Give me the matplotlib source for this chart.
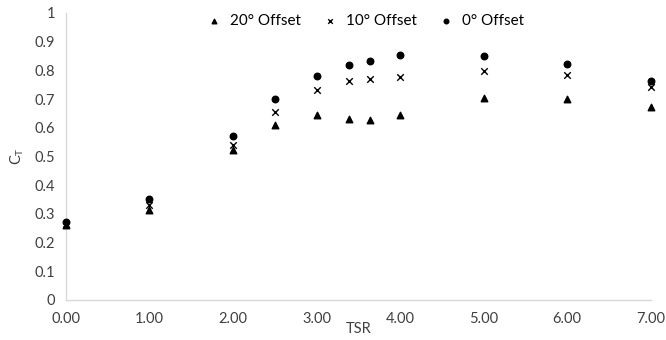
import numpy as np
import matplotlib.pyplot as plt

plt.rcParams['font.family'] = ['Lato', 'DejaVu Sans']

tsr = [0.0, 1.0, 2.0, 2.5, 3.0, 3.39, 3.64, 4.0, 5.0, 6.0, 7.0]
ct_20 = [0.26, 0.314, 0.523, 0.61, 0.643, 0.632, 0.628, 0.645, 0.703, 0.700, 0.673]
ct_10 = [0.265, 0.331, 0.538, 0.653, 0.732, 0.763, 0.770, 0.778, 0.798, 0.784, 0.743]
ct_0 = [0.27, 0.352, 0.571, 0.70, 0.78, 0.817, 0.834, 0.852, 0.850, 0.823, 0.763]

labels = ['20° Offset', '10° Offset', '0° Offset']
x_ticks = np.arange(0, 8, 1)
y_ticks = np.round(np.arange(0, 1.01, 0.1), 1)

txt = '#404040'
fig = plt.figure(figsize=(6.66, 3.4), dpi=100)
ax = fig.add_axes([0.099, 0.118, 0.878, 0.844])

ax.scatter(tsr, ct_20, marker='^', s=22, color='black', label=labels[0], zorder=3)
ax.scatter(tsr, ct_10, marker='x', s=22, color='black', linewidths=1.0, label=labels[1], zorder=3)
ax.scatter(tsr, ct_0, marker='o', s=22, color='black', label=labels[2], zorder=3)

ax.set_xlim(0, 7)
ax.set_ylim(0, 1)
ax.set_xticks(x_ticks)
ax.set_xticklabels([f'{v:.2f}' for v in x_ticks])
ax.set_yticks(y_ticks)
ax.set_yticklabels([f'{v:g}' for v in y_ticks])
ax.tick_params(axis='y', length=0, labelsize=10.5, labelcolor=txt, pad=8)
ax.tick_params(axis='x', length=0, labelsize=10.5, labelcolor=txt, pad=9)

for s in ['top', 'right']:
    ax.spines[s].set_visible(False)
for s in ['left', 'bottom']:
    ax.spines[s].set_color('#d9d9d9')
    ax.spines[s].set_linewidth(1)
for c in ax.collections:
    c.set_clip_on(False)

ax.set_xlabel('TSR', fontsize=10.5, color=txt, labelpad=-3)
ax.set_ylabel('C$_\\mathregular{T}$', fontsize=10.5, color=txt, labelpad=6)

leg = ax.legend(loc='upper center', bbox_to_anchor=(0.505, 1.045), ncol=3, frameon=False,
                fontsize=11, handletextpad=0.05, columnspacing=0.9, markerscale=0.7)
for t in leg.get_texts():
    t.set_color('black')

fig.savefig('out.png', dpi=100)
